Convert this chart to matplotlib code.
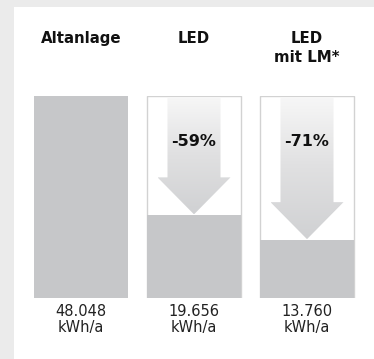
import numpy as np
import matplotlib.pyplot as plt
from matplotlib.patches import Rectangle, Polygon
from matplotlib.colors import LinearSegmentedColormap

plt.rcParams['font.family'] = ['DejaVu Sans']

categories = ['Altanlage', 'LED', 'LED\nmit LM*']
values = [48048, 19656, 13760]
value_labels = ['48.048\nkWh/a', '19.656\nkWh/a', '13.760\nkWh/a']

W, H = 374, 359
fig = plt.figure(figsize=(W / 100, H / 100), dpi=100)
fig.patch.set_facecolor('#ebebeb')

# white panel behind the chart
fig.patches.append(Rectangle((14 / W, 0), 1, 1 - 7 / H, transform=fig.transFigure,
                             facecolor='white', edgecolor='none', zorder=-10))

# axes area: bars centred 113 px apart, baseline at y=298 px, full bar to y=96 px
left_px, right_px = 24.5, 363.5
bot_px, top_px = 298, 96
ax = fig.add_axes([left_px / W, (H - bot_px) / H, (right_px - left_px) / W, (bot_px - top_px) / H])
ax.set_xlim(-0.5, 2.5)
ax.set_ylim(0, values[0])
ax.axis('off')

bar_w = 94 / 113
bar_color = '#c6c7c9'
ref = values[0]
units_per_px = ref / (bot_px - top_px)

grad_cmap = LinearSegmentedColormap.from_list('arrow', ['#d0d1d3', '#e0e0e1', '#f7f7f7'])

for i, (cat, v, lab) in enumerate(zip(categories, values, value_labels)):
    if i > 0:
        # outlined box at the reference height
        ax.add_patch(Rectangle((i - bar_w / 2, 0), bar_w, ref, facecolor='white',
                               edgecolor='#d2d2d2', linewidth=1, zorder=1))
        # down arrow from box top to bar top
        shaft = 53 / 113 / 2
        head = 73 / 113 / 2
        head_len = 37 * units_per_px
        tip = v + 1 * units_per_px
        top = ref - 1 * units_per_px
        pts = [(i - shaft, top), (i + shaft, top), (i + shaft, tip + head_len),
               (i + head, tip + head_len), (i, tip), (i - head, tip + head_len),
               (i - shaft, tip + head_len)]
        poly = Polygon(pts, closed=True, facecolor='none', edgecolor='none', zorder=2)
        ax.add_patch(poly)
        grad = np.linspace(0, 1, 256).reshape(-1, 1)
        im = ax.imshow(grad, cmap=grad_cmap, aspect='auto', origin='lower',
                       extent=(i - head, i + head, tip, top), zorder=2)
        im.set_clip_path(poly)
        pct = round((1 - v / ref) * 100)
        ax.text(i, ref - 46 * units_per_px, f'-{pct}%', ha='center', va='center',
                fontsize=11.5, fontweight='bold', color='#111111', zorder=4)
    ax.bar(i, v, width=bar_w, color=bar_color, zorder=3)
    ax.text(i, -6 * units_per_px, lab, ha='center', va='top', fontsize=10.5,
            color='#222222', linespacing=1.1)
    ax.text(i, ref + 65 * units_per_px, cat, ha='center', va='top', fontsize=10.8,
            fontweight='bold', color='#111111', linespacing=1.34)

for t in ax.texts:
    t.set_clip_on(False)

fig.savefig('out.png', dpi=100, facecolor=fig.get_facecolor())
